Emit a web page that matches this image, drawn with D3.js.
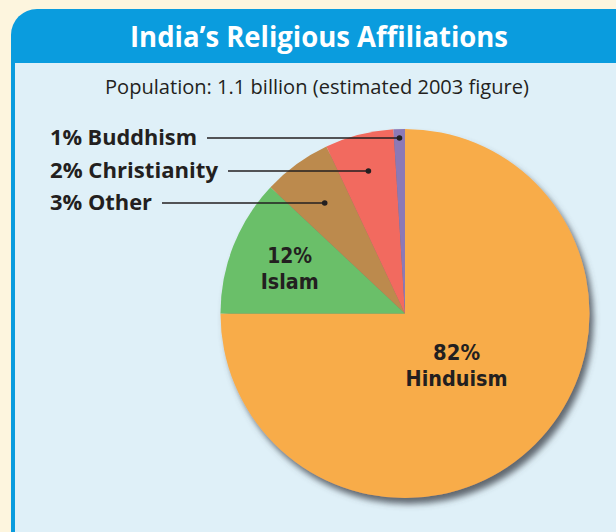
<!DOCTYPE html>
<html lang="en">
<head>
<meta charset="UTF-8">
<title>India's Religious Affiliations</title>
<script src="https://d3js.org/d3.v7.min.js"></script>
<style>
  html, body { margin: 0; padding: 0; background: #fdf5de; }
  svg { display: block; }
</style>
</head>
<body>
<div id="chart"></div>
<script>
// chart data
const religions = ["Hinduism", "Islam", "Other", "Christianity", "Buddhism"];
const percentLabels = [82, 12, 3, 2, 1];          // numbers printed on the chart
const drawnShares = [75, 12, 6, 6, 1];            // slice sizes as drawn in the picture (% of circle)
const sliceColors = ["#f8ac4a", "#6abf69", "#bc8a4d", "#f26b5e", "#8c79b6"];
const titleText = "India\u2019s Religious Affiliations";
const subtitleText = "Population: 1.1 billion (estimated 2003 figure)";

const width = 616, height = 532;
const cx = 405, cy = 313.5, radius = 184.5;
const ink = "#231f20";

const svg = d3.select("#chart").append("svg")
    .attr("width", width).attr("height", height);

const defs = svg.append("defs");
const shadow = defs.append("filter").attr("id", "pieShadow")
    .attr("x", "-20%").attr("y", "-20%").attr("width", "140%").attr("height", "140%");
shadow.append("feGaussianBlur").attr("in", "SourceAlpha").attr("stdDeviation", 3);
shadow.append("feOffset").attr("dx", 4).attr("dy", 6).attr("result", "off");
shadow.append("feFlood").attr("flood-color", "#4a5058").attr("flood-opacity", 0.85);
shadow.append("feComposite").attr("in2", "off").attr("operator", "in");
const merge = shadow.append("feMerge");
merge.append("feMergeNode");
merge.append("feMergeNode").attr("in", "SourceGraphic");

// background and panel
svg.append("rect").attr("width", width).attr("height", height).attr("fill", "#fdf5de");
svg.append("rect").attr("x", 11).attr("y", 9).attr("width", 640).attr("height", 600)
    .attr("rx", 26).attr("fill", "#0a9cde");
svg.append("rect").attr("x", 15).attr("y", 63).attr("width", 640).attr("height", 600)
    .attr("fill", "#dff0f8");

svg.append("text")
    .attr("x", 319).attr("y", 47)
    .attr("text-anchor", "middle")
    .attr("font-family", "Open Sans, DejaVu Sans, sans-serif")
    .attr("font-weight", "bold").attr("font-size", 28)
    .attr("fill", "#fff")
    .attr("textLength", 378).attr("lengthAdjust", "spacingAndGlyphs")
    .text(titleText);

svg.append("text")
    .attr("x", 317).attr("y", 94)
    .attr("text-anchor", "middle")
    .attr("font-family", "Open Sans, DejaVu Sans, sans-serif")
    .attr("font-size", 20)
    .attr("fill", ink)
    .attr("textLength", 424).attr("lengthAdjust", "spacingAndGlyphs")
    .text(subtitleText);

// pie
const rows = religions.map((name, i) => ({name, pct: percentLabels[i], share: drawnShares[i], color: sliceColors[i]}));
const pie = d3.pie().sort(null).value(d => d.share).startAngle(0).endAngle(2 * Math.PI);
const arcs = pie(rows);
const arc = d3.arc().innerRadius(0).outerRadius(radius);

const g = svg.append("g").attr("transform", `translate(${cx},${cy})`);
g.append("g").attr("filter", "url(#pieShadow)")
  .selectAll("path").data(arcs).join("path")
    .attr("d", arc)
    .attr("fill", d => d.data.color);

const midAngle = d => (d.startAngle + d.endAngle) / 2;

// labels inside the big slices (two lines each)
const inside = {Hinduism: {r: 73, w: [47, 102]}, Islam: {r: 124, w: [45, 58]}};
arcs.filter(d => inside[d.data.name]).forEach(d => {
  const o = inside[d.data.name];
  const a = midAngle(d);
  const x = Math.sin(a) * o.r, y = -Math.cos(a) * o.r;
  [[d.data.pct + "%", y - 5, o.w[0]], [d.data.name, y + 21, o.w[1]]].forEach(([txt, ty, tw]) => {
    g.append("text")
        .attr("x", x).attr("y", ty)
        .attr("text-anchor", "middle")
        .attr("font-family", "DejaVu Sans, sans-serif")
        .attr("font-weight", "bold").attr("font-size", 22)
        .attr("fill", ink)
        .attr("textLength", tw).attr("lengthAdjust", "spacingAndGlyphs")
        .text(txt);
  });
});

// leader labels for the small slices
const callouts = [
  {name: "Buddhism", y: 138, w: 147},
  {name: "Christianity", y: 171, w: 168},
  {name: "Other", y: 203, w: 102}
];
callouts.forEach(c => {
  const d = arcs.find(a => a.data.name === c.name);
  const a = midAngle(d);
  const r = (c.y - cy) / -Math.cos(a);
  const dotX = cx + Math.sin(a) * r;
  svg.append("text")
      .attr("x", 50).attr("y", c.y + 7)
      .attr("font-family", "Open Sans, DejaVu Sans, sans-serif")
      .attr("font-weight", "bold").attr("font-size", 22)
      .attr("fill", ink)
      .attr("textLength", c.w).attr("lengthAdjust", "spacingAndGlyphs")
      .text(d.data.pct + "% " + d.data.name);
  svg.append("line")
      .attr("x1", 50 + c.w + 10).attr("x2", dotX)
      .attr("y1", c.y).attr("y2", c.y)
      .attr("stroke", ink).attr("stroke-width", 1.4);
  svg.append("circle")
      .attr("cx", dotX).attr("cy", c.y).attr("r", 2.8)
      .attr("fill", ink);
});
</script>
</body>
</html>
